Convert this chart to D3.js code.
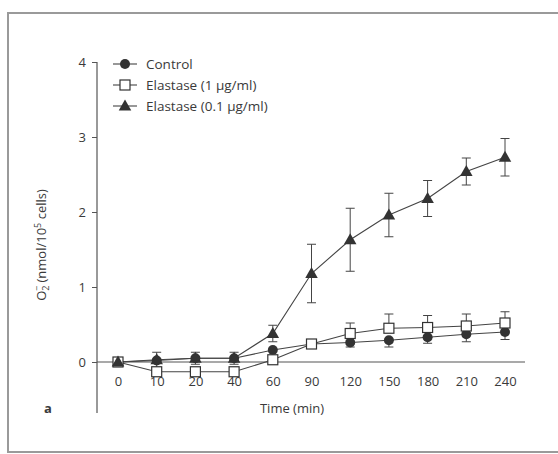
<!DOCTYPE html>
<html><head><meta charset="utf-8">
<script src="https://cdn.jsdelivr.net/npm/d3@7"></script>
<style>body{margin:0;background:#fff}svg{display:block}text{font-family:"Open Sans",sans-serif;fill:#3a3a3a}</style>
</head><body><svg id="c" width="558" height="454"></svg>
<script>
const times = ["0","10","20","40","60","90","120","150","180","210","240"];
const control = [0,0.02,0.05,0.05,0.16,0.24,0.26,0.29,0.33,0.37,0.40];
const controlErr = [0,0,0,0,0,0,0.06,0.09,0.08,0.10,0.10];
const el1 = [0,-0.13,-0.13,-0.13,0.03,0.24,0.38,0.45,0.46,0.48,0.52];
const el1Err = [0,0,0,0,0,0,0.14,0.19,0.16,0.16,0.15];
const el01 = [0,0.03,0.05,0.05,0.38,1.18,1.63,1.96,2.18,2.54,2.73];
const el01Err = [0,0.10,0.08,0.08,0.11,0.39,0.42,0.29,0.24,0.18,0.25];
const yTicks = [0,1,2,3,4];
const legendLabels = ["Control","Elastase (1 \u00b5g/ml)","Elastase (0.1 \u00b5g/ml)"];

const svg = d3.select("#c");
const ink = "#333";
svg.append("rect").attr("x",8).attr("y",13).attr("width",560).attr("height",439)
  .attr("fill","none").attr("stroke","#9a9a9a").attr("stroke-width",2);

const x = d3.scalePoint().domain(times).range([118,505]);
const y = d3.scaleLinear().domain([0,4]).range([362,62]);
const axX = 97;

// y axis
svg.append("line").attr("x1",axX).attr("x2",axX).attr("y1",y(4)).attr("y2",413).attr("stroke","#555").attr("stroke-width",1.2);
const ya = svg.append("g").attr("transform",`translate(${axX},0)`)
  .call(d3.axisLeft(y).tickValues(yTicks).tickSize(5).tickPadding(6).tickFormat(d3.format("d")));
ya.select(".domain").remove();
ya.selectAll("line").attr("stroke","#555");
ya.selectAll("text").attr("font-size",13).attr("fill","#3a3a3a").style("font-family","Open Sans");

// x axis
svg.append("line").attr("x1",axX).attr("x2",525).attr("y1",y(0)).attr("y2",y(0)).attr("stroke","#555").attr("stroke-width",1.2);
const xa = svg.append("g").attr("transform",`translate(0,${y(0)})`)
  .call(d3.axisBottom(x).tickSize(0).tickPadding(15));
xa.select(".domain").remove();
xa.selectAll("text").attr("font-size",13).attr("fill","#3a3a3a").style("font-family","Open Sans");

// labels
svg.append("text").attr("x",292).attr("y",413).attr("text-anchor","middle").attr("font-size",13).text("Time (min)");
svg.append("text").attr("x",48).attr("y",413).attr("text-anchor","middle").attr("font-size",13).attr("font-weight","bold").text("a");
const yl = svg.append("text").attr("transform","translate(46,245) rotate(-90)").attr("text-anchor","middle").attr("font-size",13);
yl.append("tspan").text("O");
yl.append("tspan").attr("font-size",9).attr("dy",3).text("2");
yl.append("tspan").attr("font-size",9).attr("dx",-5.5).attr("dy",-9).text("\u2212");
yl.append("tspan").attr("dy",6).text(" (nmol/10");
yl.append("tspan").attr("font-size",9).attr("dy",-5).text("5");
yl.append("tspan").attr("dy",5).text(" cells)");

const series = [
  {vals:control, err:controlErr, dir:-1, shape:"circle"},
  {vals:el1, err:el1Err, dir:1, shape:"square"},
  {vals:el01, err:el01Err, dir:0, shape:"triangle"}
];
const line = d3.line().x((d,i)=>x(times[i])).y(d=>y(d));

function marker(g, shape, cx, cy){
  if(shape==="circle") g.append("circle").attr("cx",cx).attr("cy",cy).attr("r",5).attr("fill",ink);
  else if(shape==="square") g.append("rect").attr("x",cx-5).attr("y",cy-5).attr("width",10).attr("height",10).attr("fill","#fff").attr("stroke",ink).attr("stroke-width",1.2);
  else g.append("path").attr("d",d3.symbol(d3.symbolTriangle,68)()).attr("transform",`translate(${cx},${cy+0.8})`).attr("fill",ink);
}

// error bars
series.forEach(s=>{
  s.vals.forEach((v,i)=>{
    const e = s.err[i]; if(!e) return;
    const cx = x(times[i]);
    const lo = s.dir===1 ? v : v - e, hi = s.dir===-1 ? v : v + e;
    const g = svg.append("g").attr("stroke","#444").attr("stroke-width",1);
    g.append("line").attr("x1",cx).attr("x2",cx).attr("y1",y(lo)).attr("y2",y(hi));
    if(s.dir!==-1) g.append("line").attr("x1",cx-4.5).attr("x2",cx+4.5).attr("y1",y(hi)).attr("y2",y(hi));
    if(s.dir!==1) g.append("line").attr("x1",cx-4.5).attr("x2",cx+4.5).attr("y1",y(lo)).attr("y2",y(lo));
  });
});
// lines
series.forEach(s=>{
  svg.append("path").attr("d",line(s.vals)).attr("fill","none").attr("stroke","#444").attr("stroke-width",1.1);
});
// markers
series.forEach(s=>{
  const g = svg.append("g");
  s.vals.forEach((v,i)=>marker(g,s.shape,x(times[i]),y(v)));
});

// legend
const legY = [64,85,106];
series.forEach((s,i)=>{
  const g = svg.append("g");
  g.append("line").attr("x1",113).attr("x2",137).attr("y1",legY[i]).attr("y2",legY[i]).attr("stroke","#444").attr("stroke-width",1.1);
  marker(g,s.shape,125,legY[i]);
  g.append("text").attr("x",146).attr("y",legY[i]+5).attr("font-size",13.5).text(legendLabels[i]);
});
</script></body></html>
